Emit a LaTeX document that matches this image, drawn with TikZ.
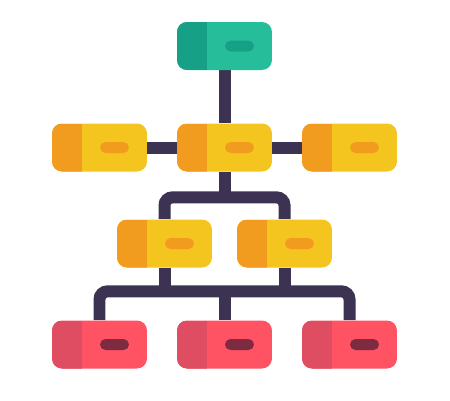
\documentclass[tikz,border=0pt]{standalone}
\usepackage{xcolor}
\usetikzlibrary{backgrounds}

\definecolor{greenLight}{HTML}{26BE9A}
\definecolor{greenDark}{HTML}{16A085}
\definecolor{yellowLight}{HTML}{F3C51E}
\definecolor{yellowDark}{HTML}{F29C1F}
\definecolor{redLight}{HTML}{FF5364}
\definecolor{redDark}{HTML}{DE4D62}
\definecolor{redPill}{HTML}{7D2B40}
\definecolor{lineCol}{HTML}{3C3251}

\tikzset{
  box/.style n args={3}{fill=#1, rounded corners=0.2cm, minimum width=1.9cm,
    minimum height=0.96cm, inner sep=0pt,
    path picture={
      \fill[#2, sharp corners] (path picture bounding box.south west) rectangle ([xshift=0.6cm]path picture bounding box.north west);
      \fill[#3, rounded corners=0.11cm] ([shift={(0.01cm,-0.11cm)}]path picture bounding box.center) rectangle ([shift={(0.59cm,0.11cm)}]path picture bounding box.center);
    }},
  link/.style={line width=0.24cm, draw=lineCol, rounded corners=0.16cm},
}

\begin{document}
\begin{tikzpicture}[x=0.02cm, y=-0.02cm]
            \useasboundingbox (0,0) rectangle (450,400);

            \node[box={greenLight}{greenDark}{greenDark}] (top) at (224.5, 46) {};

            \node[box={yellowLight}{yellowDark}{yellowDark}] (left) at (99.5, 147.5) {};
            \node[box={yellowLight}{yellowDark}{yellowDark}] (mid) at (224.5, 147.5) {};
            \node[box={yellowLight}{yellowDark}{yellowDark}] (right) at (349.5, 147.5) {};

            \node[box={yellowLight}{yellowDark}{yellowDark}] (subL) at (164.5, 243.5) {};
            \node[box={yellowLight}{yellowDark}{yellowDark}] (subR) at (284.5, 243.5) {};

            \node[box={redLight}{redDark}{redPill}] (botL) at (99.5, 344.5) {};
            \node[box={redLight}{redDark}{redPill}] (botM) at (224.5, 344.5) {};
            \node[box={redLight}{redDark}{redPill}] (botR) at (349.5, 344.5) {};

            \coordinate (barA) at ([yshift=-0.51cm]mid.south);
            \coordinate (barB) at ([yshift=-0.47cm]subL.south);

            \begin{pgfonlayer}{background}
            \draw[link] (top) -- (mid); % top-mid
            \draw[link] (left) -- (right); % left-right
            \draw[link] (mid) -- (barA); % mid-bar
            \draw[link] (subL) |- (barA) -| (subR); % subL-subR
            \draw[link] (subL) -- (barB); % subL-bar
            \draw[link] (subR) -- (subR |- barB); % subR-bar
            \draw[link] (botL) |- (barB) -| (botR); % botL-botR
            \draw[link] (botM) -- (botM |- barB); % botM-bar
            \end{pgfonlayer}
        \end{tikzpicture}
\end{document}
